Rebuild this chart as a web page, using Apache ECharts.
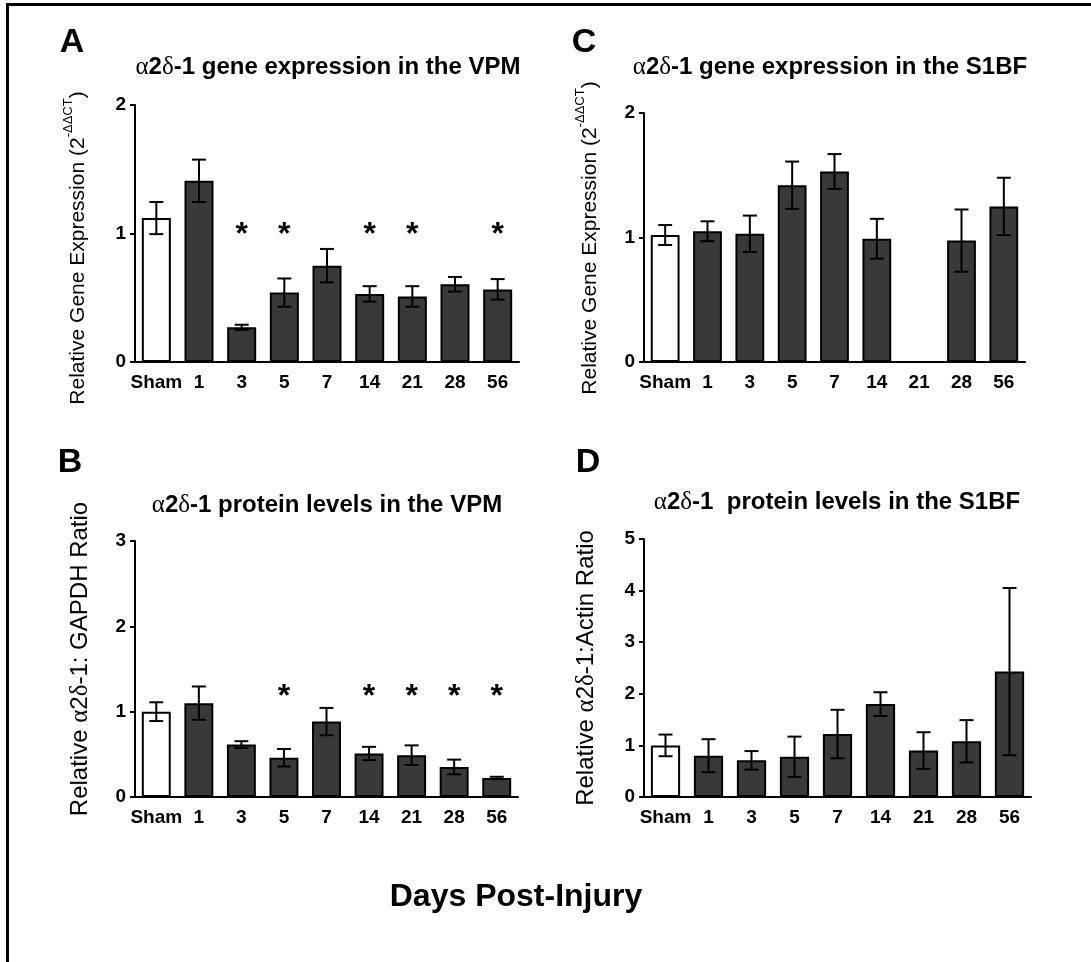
<!DOCTYPE html>
<html>
<head>
<meta charset="utf-8">
<script src="https://cdn.jsdelivr.net/npm/echarts@6/dist/echarts.min.js"></script>
<style>
  html, body { margin: 0; padding: 0; background: #fff; }
  #main { width: 1091px; height: 962px; }
</style>
</head>
<body>
<div id="main"></div>
<script>
var days = ['Sham', '1', '3', '5', '7', '14', '21', '28', '56'];

// A - gene expression, VPM
var vpmGene = [1.12, 1.41, 0.27, 0.54, 0.75, 0.53, 0.51, 0.605, 0.565];
var vpmGeneErr = [0.125, 0.165, 0.02, 0.11, 0.13, 0.06, 0.08, 0.057, 0.08];
var vpmGeneSig = ['3', '5', '14', '21', '56'];

// C - gene expression, S1BF (no bar at day 21)
var s1bfGene = [1.02, 1.05, 1.03, 1.42, 1.53, 0.99, null, 0.975, 1.25];
var s1bfGeneErr = [0.08, 0.08, 0.146, 0.19, 0.14, 0.16, null, 0.25, 0.23];
var s1bfGeneSig = [];

// B - protein, VPM
var vpmProtein = [1.0, 1.1, 0.614, 0.46, 0.884, 0.51, 0.49, 0.352, 0.223];
var vpmProteinErr = [0.11, 0.195, 0.04, 0.103, 0.16, 0.078, 0.115, 0.086, 0.014];
var vpmProteinSig = ['5', '14', '21', '28', '56'];

// D - protein, S1BF
var s1bfProtein = [1.0, 0.8, 0.71, 0.78, 1.22, 1.8, 0.9, 1.08, 2.43];
var s1bfProteinErr = [0.21, 0.32, 0.18, 0.39, 0.47, 0.23, 0.355, 0.41, 1.62];
var s1bfProteinSig = [];

var FONT = "'Liberation Sans', Arial, sans-serif";
var SERIF = "'Liberation Serif', 'DejaVu Serif', serif";
var DARK = '#393939';

var panels = [
  { vals: vpmGene, errs: vpmGeneErr, sig: vpmGeneSig, yMax: 2, starAt: 1.044,
    grid: { left: 135, top: 105, width: 384, height: 257 } },
  { vals: s1bfGene, errs: s1bfGeneErr, sig: s1bfGeneSig, yMax: 2, starAt: 1.2,
    grid: { left: 644, top: 113, width: 381, height: 249 } },
  { vals: vpmProtein, errs: vpmProteinErr, sig: vpmProteinSig, yMax: 3, starAt: 1.25,
    grid: { left: 135, top: 541, width: 383, height: 256 } },
  { vals: s1bfProtein, errs: s1bfProteinErr, sig: s1bfProteinSig, yMax: 5, starAt: 3,
    grid: { left: 644, top: 539, width: 387, height: 258 } }
];

var grids = [], xAxes = [], yAxes = [], series = [];

panels.forEach(function (p, i) {
  grids.push(Object.assign({ outerBoundsMode: 'none', containLabel: false }, p.grid));

  xAxes.push({
    type: 'category',
    gridIndex: i,
    data: days,
    axisLine: { lineStyle: { color: '#000', width: 2 } },
    axisTick: { alignWithLabel: true, length: 6, lineStyle: { color: '#000', width: 2 } },
    axisLabel: { color: '#000', fontWeight: 'bold', fontSize: 19, fontFamily: FONT, margin: 11, interval: 0 }
  });

  yAxes.push({
    type: 'value',
    gridIndex: i,
    min: 0,
    max: p.yMax,
    interval: 1,
    axisLine: { show: true, lineStyle: { color: '#000', width: 2 } },
    axisTick: { show: true, length: 5, lineStyle: { color: '#000', width: 2 } },
    axisLabel: { color: '#000', fontWeight: 'bold', fontSize: 19, fontFamily: FONT, margin: 9 },
    splitLine: { show: false }
  });

  series.push({
    type: 'bar',
    xAxisIndex: i,
    yAxisIndex: i,
    barWidth: '68%',
    data: p.vals.map(function (v, k) {
      return {
        value: v === null ? '-' : v,
        itemStyle: { color: k === 0 ? '#fff' : DARK, borderColor: '#000', borderWidth: 2 }
      };
    }),
    z: 2
  });

  // error bars (mean +/- SEM)
  series.push({
    type: 'custom',
    xAxisIndex: i,
    yAxisIndex: i,
    data: p.vals.map(function (v, k) { return [k, v, p.errs[k]]; })
      .filter(function (d) { return d[1] !== null; }),
    renderItem: function (params, api) {
      var x = api.value(0), v = api.value(1), e = api.value(2);
      var hi = api.coord([x, v + e]);
      var lo = api.coord([x, v - e]);
      var half = 7;
      var st = { stroke: '#000', lineWidth: 2 };
      return {
        type: 'group',
        children: [
          { type: 'line', shape: { x1: hi[0], y1: hi[1], x2: lo[0], y2: lo[1] }, style: st },
          { type: 'line', shape: { x1: hi[0] - half, y1: hi[1], x2: hi[0] + half, y2: hi[1] }, style: st },
          { type: 'line', shape: { x1: lo[0] - half, y1: lo[1], x2: lo[0] + half, y2: lo[1] }, style: st }
        ]
      };
    },
    z: 3
  });

  // significance stars
  series.push({
    type: 'custom',
    xAxisIndex: i,
    yAxisIndex: i,
    data: p.sig.map(function (d) { return [days.indexOf(d), p.starAt]; }),
    renderItem: function (params, api) {
      var pt = api.coord([api.value(0), api.value(1)]);
      return {
        type: 'text',
        x: pt[0],
        y: pt[1] + 7,
        style: {
          text: '*',
          fill: '#000',
          font: 'bold 32px ' + FONT,
          textAlign: 'center',
          textVerticalAlign: 'middle'
        }
      };
    },
    z: 4
  });
});

function label(text, x, y, size, weight, extra) {
  return Object.assign({
    type: 'text',
    x: x,
    y: y,
    style: {
      text: text,
      fill: '#000',
      fontSize: size,
      fontWeight: weight,
      fontFamily: FONT,
      textAlign: 'center',
      textVerticalAlign: 'middle'
    }
  }, extra || {});
}

function greekRich(size, extra) {
  return Object.assign({
    g: { fontFamily: SERIF, fontSize: size + 1, fontWeight: 'normal', fill: '#000' }
  }, extra || {});
}

var titleA = label('{g|α}2{g|δ}-1 gene expression in the VPM', 328, 67, 24, 'bold');
titleA.style.rich = greekRich(24);
var titleC = label('{g|α}2{g|δ}-1 gene expression in the S1BF', 830, 67, 24, 'bold');
titleC.style.rich = greekRich(24);
var titleB = label('{g|α}2{g|δ}-1 protein levels in the VPM', 327, 505, 24, 'bold');
titleB.style.rich = greekRich(24);
var titleD = label('{g|α}2{g|δ}-1  protein levels in the S1BF', 837, 502, 24, 'bold');
titleD.style.rich = greekRich(24);

function geneName(x, y) {
  var t = label('{n|Relative Gene Expression (2}{s|-ΔΔCT}{n|)}', x, y, 21, 'normal',
    { rotation: Math.PI / 2 });
  t.style.rich = {
    n: { fontSize: 21, fontFamily: FONT, lineHeight: 32, fill: '#000' },
    s: { fontSize: 13, fontFamily: FONT, verticalAlign: 'top', fill: '#000' }
  };
  return t;
}

function proteinName(text, x, y) {
  var t = label(text, x, y, 24, 'normal', { rotation: Math.PI / 2 });
  t.style.rich = greekRich(24);
  return t;
}

var chart = echarts.init(document.getElementById('main'), null, { renderer: 'canvas' });
chart.setOption({
  animation: false,
  backgroundColor: '#fff',
  grid: grids,
  xAxis: xAxes,
  yAxis: yAxes,
  series: series,
  graphic: [
    { type: 'polyline', shape: { points: [[7.5, 962], [7.5, 4.5], [1091, 4.5]] },
      style: { stroke: '#000', lineWidth: 3, fill: null } },
    label('A', 72, 43, 34, 'bold'),
    label('C', 584, 43, 34, 'bold'),
    label('B', 70, 463, 34, 'bold'),
    label('D', 588, 463, 34, 'bold'),
    titleA, titleC, titleB, titleD,
    geneName(78, 248),
    geneName(590, 238),
    proteinName('Relative {g|α}2{g|δ}-1: GAPDH Ratio', 80, 659),
    proteinName('Relative {g|α}2{g|δ}-1:Actin Ratio', 586, 668),
    label('Days Post-Injury', 516, 897, 32, 'bold')
  ]
});
</script>
</body>
</html>
